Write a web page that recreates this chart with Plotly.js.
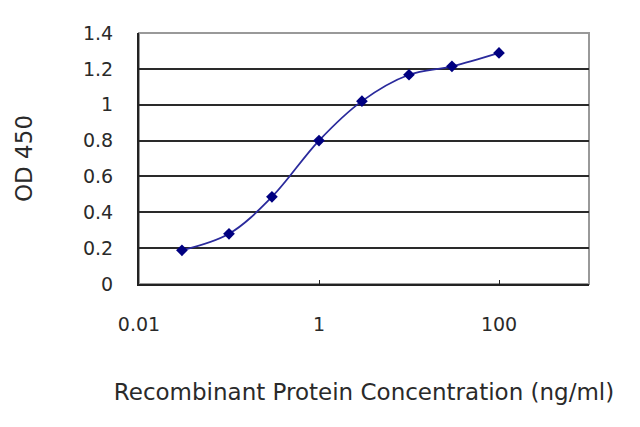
<!DOCTYPE html>
<html>
<head>
<meta charset="utf-8">
<script src="https://cdn.plot.ly/plotly-3.0.1.min.js"></script>
<style>html,body{margin:0;padding:0;background:#fff;}#chart{width:640px;height:427px;}</style>
</head>
<body>
<div id="chart"></div>
<script>
const concentration = [0.03, 0.1, 0.3, 1, 3, 10, 30, 100];
const od450 = [0.188, 0.28, 0.486, 0.80, 1.02, 1.167, 1.214, 1.289];
const xTickVals = [0.01, 1, 100];
const xTickText = ['0.01', '1', '100'];
const yTickVals = [0, 0.2, 0.4, 0.6, 0.8, 1, 1.2, 1.4];
const yTickText = ['0', '0.2', '0.4', '0.6', '0.8', '1', '1.2', '1.4'];

const font = 'DejaVu Sans, Liberation Sans, Arial, sans-serif';

const trace = {
  x: concentration, y: od450, type: 'scatter', mode: 'lines+markers',
  line: {color: '#2a2a9c', width: 1.8, shape: 'spline', smoothing: 1},
  marker: {symbol: 'diamond', size: 9, color: '#000080'},
  showlegend: false, hoverinfo: 'none'
};

const layout = {
  width: 640, height: 427,
  margin: {l: 139, r: 51, t: 33, b: 143},
  paper_bgcolor: '#fff', plot_bgcolor: '#fff',
  font: {family: font, size: 19, color: '#2a2a2a'},
  xaxis: {
    type: 'log', range: [-2, 3],
    tickvals: xTickVals, ticktext: xTickText,
    showgrid: false, zeroline: false,
    showline: true, linecolor: '#222', linewidth: 2,
    ticks: 'inside', ticklen: 4, tickcolor: '#222',
    ticklabelstandoff: 22,
    tickfont: {family: font, size: 19, color: '#2a2a2a'},
    title: {text: 'Recombinant Protein Concentration (ng/ml)', font: {family: font, size: 23, color: '#2a2a2a'}, standoff: 50}
  },
  yaxis: {
    range: [0, 1.4],
    tickvals: yTickVals, ticktext: yTickText,
    showgrid: true, gridcolor: '#2a2a2a', gridwidth: 2,
    zeroline: false,
    showline: true, linecolor: '#222', linewidth: 2,
    ticks: '', ticklabelstandoff: 20,
    tickfont: {family: font, size: 19, color: '#2a2a2a'},
    title: {text: 'OD 450', font: {family: font, size: 23, color: '#2a2a2a'}, standoff: 44}
  },
  shapes: [{type: 'rect', xref: 'paper', yref: 'paper', x0: 0, x1: 1, y0: 0, y1: 1,
    line: {color: '#999', width: 2}, layer: 'below'}]
};

Plotly.newPlot('chart', [trace], layout, {staticPlot: true, displayModeBar: false});
</script>
</body>
</html>
